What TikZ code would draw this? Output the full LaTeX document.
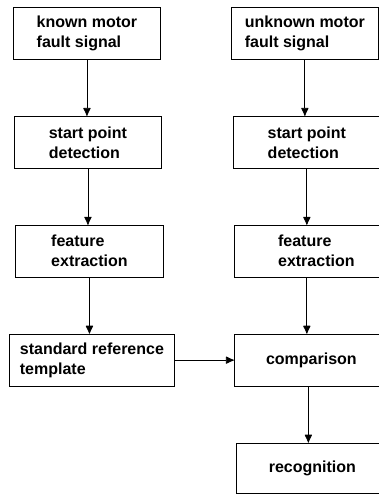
\documentclass[tikz,border=0pt]{standalone}
\usepackage{fontspec}
\setmainfont{Liberation Sans}
\usetikzlibrary{arrows.meta,positioning}

\begin{document}
\begin{tikzpicture}[
    x=1pt, y=1pt,
    node distance=56pt and 70pt,
    box/.style={draw, line width=0.9pt, align=left, font=\bfseries\fontsize{16}{20}\selectfont, minimum width=147pt, minimum height=52pt, inner sep=2pt},
    arr/.style={-{Latex[length=9pt, width=8pt, round]}, line width=0.8pt}
  ]
    \useasboundingbox (0,0) rectangle (378,-494);

    % left column: known signal
    \node[box, anchor=north west] (known) at (13,-7) {known motor\\fault signal};
    \node[box, below=of known, xshift=1pt] (lstart) {start point\\detection};
    \node[box, below=of lstart, xshift=1.5pt, minimum width=148pt] (lfeat) {feature\\extraction};
    \node[box, below=of lfeat, xshift=2.5pt, minimum width=165pt] (tmpl) {standard reference\\template};

    % right column: unknown signal
    \node[box, right=of known] (unknown) {unknown motor\\fault signal};
    \node[box, below=of unknown, xshift=2pt] (rstart) {start point\\detection};
    \node[box, below=of rstart.south west, anchor=north west, xshift=1pt, minimum width=164pt] (rfeat) {feature\\extraction};
    \node[box, below=of rfeat.south west, anchor=north west, minimum width=154pt] (cmp) {comparison};
    \node[box, below=of cmp.south west, anchor=north west, xshift=2pt, minimum width=152pt, minimum height=50pt] (recog) {recognition};

    \draw[arr] (known.south) -- (known.south |- lstart.north);
    \draw[arr] (lstart.south) -- (lstart.south |- lfeat.north);
    \draw[arr] (lfeat.south) -- (lfeat.south |- tmpl.north);

    \draw[arr] (unknown.south) -- (unknown.south |- rstart.north);
    \draw[arr] (rstart.south) -- (rstart.south |- rfeat.north);
    \draw[arr] (rfeat.south -| rstart.south) -- (cmp.north -| rstart.south);
    \draw[arr] ([xshift=-3pt]cmp.south) -- ([xshift=-3pt]cmp.south |- recog.north);

    \draw[arr] (tmpl.east) -- (cmp.west);
  \end{tikzpicture}
\end{document}
